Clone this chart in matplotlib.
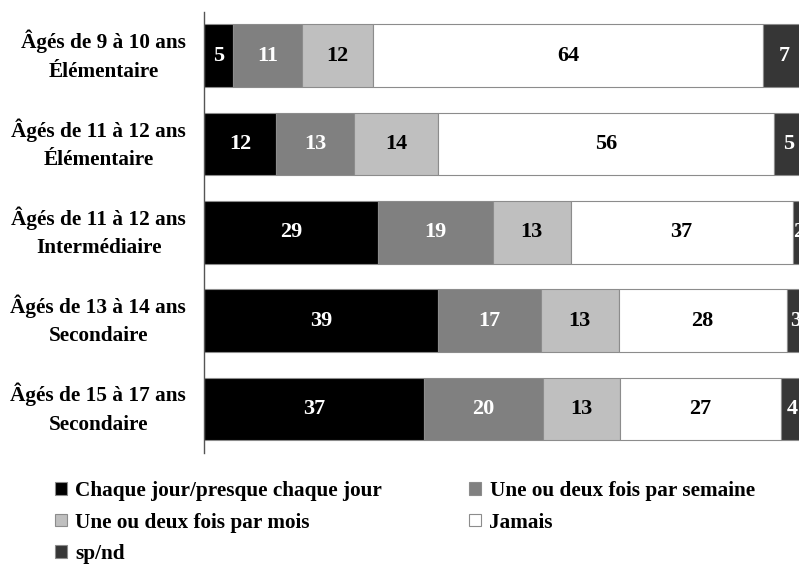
import numpy as np
import matplotlib.pyplot as plt

# catégories (de haut en bas)
groupes = ["Âgés de 9 à 10 ans\nÉlémentaire",
           "Âgés de 11 à 12 ans\nÉlémentaire",
           "Âgés de 11 à 12 ans\nIntermédiaire",
           "Âgés de 13 à 14 ans\nSecondaire",
           "Âgés de 15 à 17 ans\nSecondaire"]

series = ["Chaque jour/presque chaque jour",
          "Une ou deux fois par semaine",
          "Une ou deux fois par mois",
          "Jamais",
          "sp/nd"]

# pourcentages (largeurs) et étiquettes affichées
chaque_jour = [4.9, 12.0, 29.0, 39.0, 36.6]
semaine = [11.4, 13.0, 19.1, 17.1, 19.9]
mois = [11.9, 14.0, 13.0, 13.0, 12.9]
jamais = [65.0, 56.0, 37.0, 28.0, 26.7]
spnd = [7.0, 5.0, 2.0, 3.0, 4.0]

etiq_chaque_jour = [5, 12, 29, 39, 37]
etiq_semaine = [11, 13, 19, 17, 20]
etiq_mois = [12, 14, 13, 13, 13]
etiq_jamais = [64, 56, 37, 28, 27]
etiq_spnd = [7, 5, 2, 3, 4]

couleurs = ["#000000", "#808080", "#bfbfbf", "#ffffff", "#363636"]
couleurs_texte = ["white", "white", "black", "black", "white"]

plt.rcParams['font.family'] = ['Liberation Serif', 'DejaVu Serif']

fig = plt.figure(figsize=(7.99, 5.65), dpi=100)
# l'axe dépasse à droite de l'image, comme sur l'original (barres coupées)
ax = fig.add_axes([204 / 799, 1 - 453 / 565, 600 / 799, 441.3 / 565])

y = np.arange(len(groupes))
valeurs = [chaque_jour, semaine, mois, jamais, spnd]
etiquettes = [etiq_chaque_jour, etiq_semaine, etiq_mois, etiq_jamais, etiq_spnd]

gauche = np.zeros(len(groupes))
barres = []
for vals, labs, nom, c, ct in zip(valeurs, etiquettes, series, couleurs, couleurs_texte):
    b = ax.barh(y, vals, left=gauche, height=0.71, color=c, edgecolor="#8c8c8c",
                linewidth=0.8, label=nom)
    barres.append(b)
    for yi, g, v, lab in zip(y, gauche, vals, labs):
        ax.text(g + v / 2, yi, str(lab), ha="center", va="center",
                color=ct, fontsize=16, fontweight="bold")
    gauche = gauche + np.array(vals)

ax.set_xlim(0, 100)
ax.set_ylim(len(groupes) - 0.5, -0.5)
ax.set_yticks(y)
ax.set_yticklabels(groupes, fontsize=15.3, fontweight="bold")
for lbl in ax.get_yticklabels():
    lbl.set_multialignment("center")
    lbl.set_linespacing(1.55)
    lbl.set_va("center")
ax.tick_params(axis="y", length=0, pad=13)
ax.set_xticks([])
for s in ["top", "right", "bottom"]:
    ax.spines[s].set_visible(False)
ax.spines["left"].set_color("#555555")
ax.spines["left"].set_linewidth(1.0)

# légende en deux colonnes, remplie ligne par ligne
ordre = [0, 2, 4, 1, 3]
fig.legend([barres[i] for i in ordre], [series[i] for i in ordre],
           loc="upper left", bbox_to_anchor=(36 / 799, 1 - 462 / 565),
           ncol=2, frameon=False, handlelength=0.55, handleheight=0.55,
           handletextpad=0.4, columnspacing=4.1, labelspacing=0.54,
           prop={"size": 15.3, "weight": "bold"})

fig.savefig("out.png", dpi=100)
